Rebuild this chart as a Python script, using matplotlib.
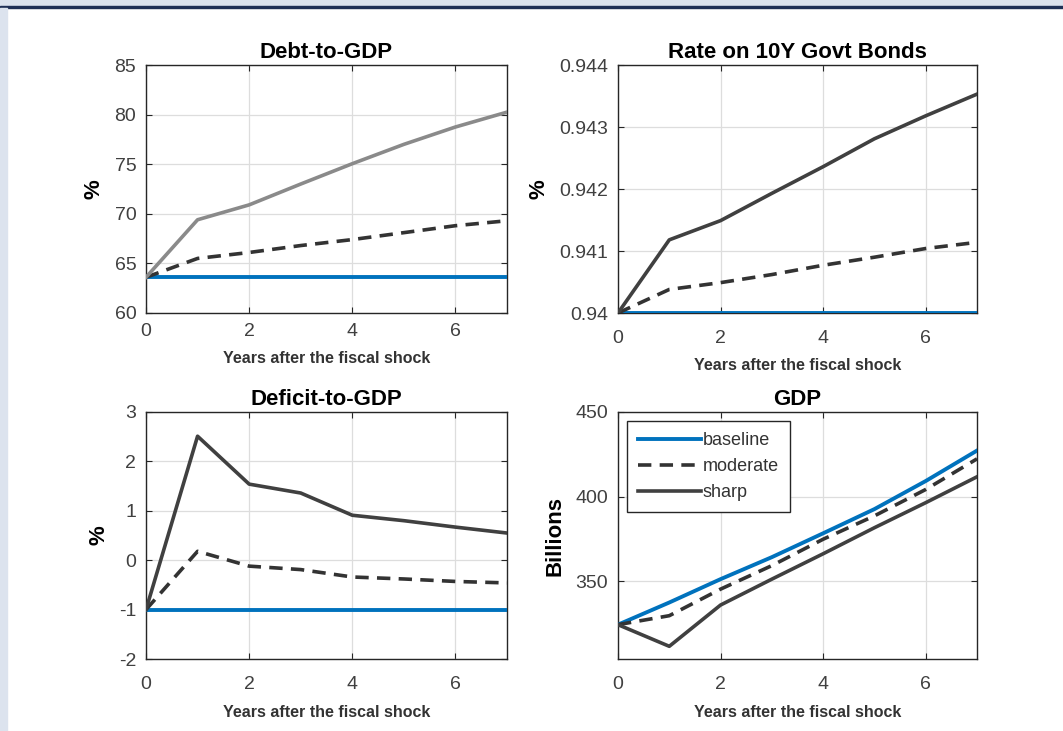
import numpy as np
import matplotlib.pyplot as plt
from matplotlib.patches import Rectangle
from matplotlib.ticker import FormatStrFormatter

plt.rcParams['font.family'] = ['Liberation Sans', 'DejaVu Sans']
plt.rcParams['axes.unicode_minus'] = False

years = [0, 1, 2, 3, 4, 5, 6, 7]

# debt-to-GDP (%)
debt_base = [63.6, 63.6, 63.6, 63.6, 63.6, 63.6, 63.6, 63.6]
debt_mod = [63.6, 65.5, 66.1, 66.8, 67.4, 68.1, 68.8, 69.3]
debt_sharp = [63.6, 69.4, 70.9, 73.0, 75.05, 77.0, 78.75, 80.25]

# rate on 10Y govt bonds (%)
rate_base = [0.94, 0.94, 0.94, 0.94, 0.94, 0.94, 0.94, 0.94]
rate_mod = [0.94, 0.94038, 0.94049, 0.94062, 0.94077, 0.9409, 0.94104, 0.94114]
rate_sharp = [0.94, 0.94118, 0.94149, 0.94193, 0.94236, 0.94281, 0.94318, 0.94353]

# deficit-to-GDP (%)
def_base = [-1, -1, -1, -1, -1, -1, -1, -1]
def_mod = [-1, 0.18, -0.12, -0.19, -0.34, -0.38, -0.43, -0.46]
def_sharp = [-1, 2.51, 1.54, 1.36, 0.91, 0.80, 0.67, 0.55]

# GDP (billions)
gdp_base = [324.3, 337.4, 351.2, 364.2, 378.3, 392.6, 409.2, 427.2]
gdp_mod = [324.3, 329.6, 345.3, 359.2, 374.8, 388.6, 404.2, 422.3]
gdp_sharp = [324.3, 311.5, 335.9, 351.2, 366.2, 381.6, 396.4, 411.7]

blue = '#0072bd'
dark = '#404040'
dashc = '#333333'
light = '#8a8a8a'
tickc = '#404040'

fig = plt.figure(figsize=(10.63, 7.31), dpi=100)
W, H = 1063, 731

# page frame
fig.patches.append(Rectangle((0, 1 - 6 / H), 1, 6 / H, transform=fig.transFigure,
                             color='#dce3ee', zorder=0))
fig.patches.append(Rectangle((0, 1 - 8 / H), 1, 2 / H, transform=fig.transFigure,
                             color='#1f3056', zorder=0))
fig.patches.append(Rectangle((0, 0), 7 / W, 1 - 8 / H, transform=fig.transFigure,
                             color='#dce3ee', zorder=0))


def make_ax(x0, y0, x1, y1):
    return fig.add_axes([x0 / W, 1 - y1 / H, (x1 - x0) / W, (y1 - y0) / H])


def style(ax, title, ylabel, xpad, xlpad):
    ax.set_xlim(0, 7)
    ax.set_xticks([0, 2, 4, 6])
    ax.grid(True, color='#dddddd', linewidth=0.9)
    ax.set_axisbelow(True)
    ax.tick_params(direction='in', length=4, width=0.8, top=True, right=True,
                   labelsize=14, labelcolor=tickc, color='#262626')
    ax.tick_params(axis='x', pad=xpad)
    ax.tick_params(axis='y', pad=7)
    for s in ax.spines.values():
        s.set_color('#262626')
        s.set_linewidth(1.0)
    ax.set_title(title, fontsize=16, fontweight='bold', pad=5)
    ax.set_xlabel('Years after the fiscal shock', fontsize=11.5, fontweight='bold',
                  color='#333333', labelpad=xlpad)
    ax.set_ylabel(ylabel, fontsize=16, fontweight='bold', labelpad=7)


def draw(ax, base, mod, sharp, sharp_col):
    ax.plot(years, base, color=blue, lw=2.8, label='baseline', zorder=3)
    ax.plot(years, mod, color=dashc, lw=2.6, dashes=(3.7, 2.3), label='moderate', zorder=4)
    ax.plot(years, sharp, color=sharp_col, lw=2.6, label='sharp', zorder=5)


ax1 = make_ax(146, 65, 507, 313)
draw(ax1, debt_base, debt_mod, debt_sharp, light)
ax1.set_ylim(60, 85)
ax1.set_yticks([60, 65, 70, 75, 80, 85])
style(ax1, 'Debt-to-GDP', '%', 7, 8)

ax2 = make_ax(618, 65, 977, 313)
draw(ax2, rate_base, rate_mod, rate_sharp, dark)
ax2.set_ylim(0.94, 0.944)
ax2.set_yticks([0.94, 0.941, 0.942, 0.943, 0.944])
ax2.yaxis.set_major_formatter(FormatStrFormatter('%g'))
style(ax2, 'Rate on 10Y Govt Bonds', '%', 12, 8)

ax3 = make_ax(146, 412, 507, 659)
draw(ax3, def_base, def_mod, def_sharp, dark)
ax3.set_ylim(-2, 3)
ax3.set_yticks([-2, -1, 0, 1, 2, 3])
style(ax3, 'Deficit-to-GDP', '%', 12, 9)

ax4 = make_ax(618, 412, 977, 659)
draw(ax4, gdp_base, gdp_mod, gdp_sharp, dark)
ax4.set_ylim(304, 450)
ax4.set_yticks([350, 400, 450])
style(ax4, 'GDP', 'Billions', 12, 9)
leg = ax4.legend(loc='upper left', fontsize=13, handlelength=3.5, handletextpad=0.1,
                 labelspacing=0.5, borderpad=0.6, borderaxespad=0.5, fancybox=False,
                 framealpha=1, edgecolor='#262626', labelcolor='#333333')
leg.get_frame().set_linewidth(1.0)

fig.savefig('out.png', dpi=100)
